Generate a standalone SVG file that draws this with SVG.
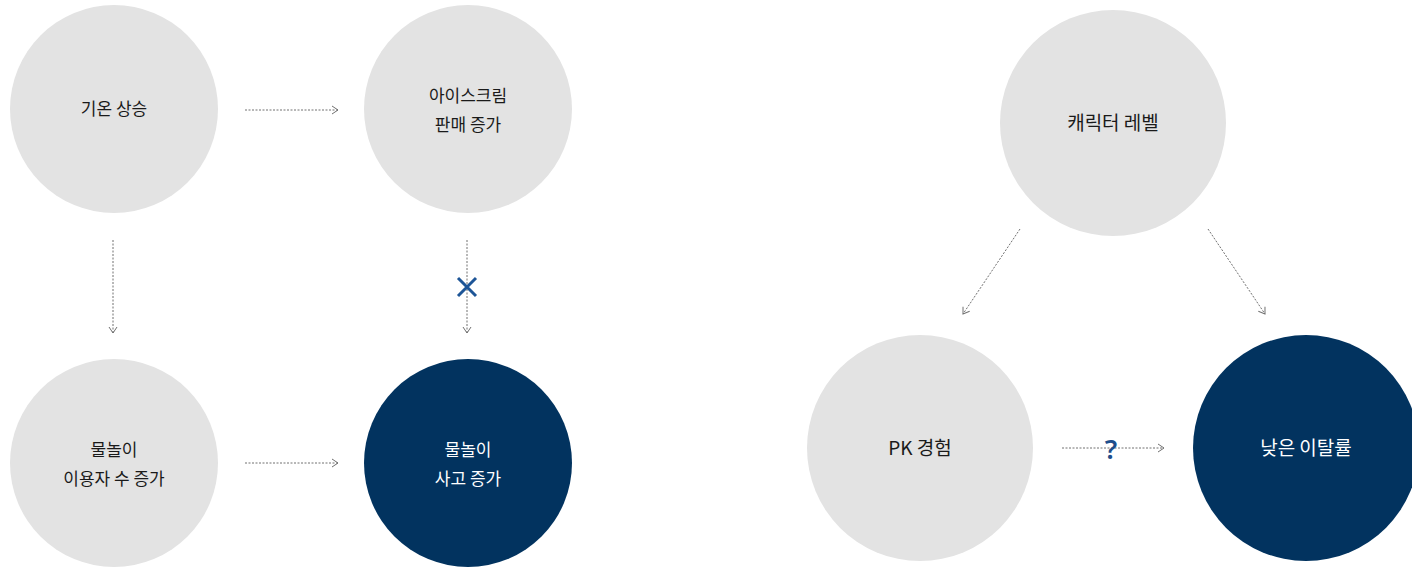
<svg xmlns="http://www.w3.org/2000/svg" width="1412" height="568" viewBox="0 0 1412 568">
<style>
.g{fill:#e3e3e3}
.n{fill:#02335f}
.t{font-family:"Noto Sans CJK KR","Noto Sans",sans-serif;font-size:17px;text-anchor:middle;fill:#1a1a1a}
.tr{font-size:19px}
.w{fill:#fff}
.c{fill:none;stroke:#707070;stroke-width:1;stroke-dasharray:2 1.5;marker-end:url(#ah)}
</style>
<defs>
<marker id="ah" viewBox="0 0 10 10" refX="9" refY="5" markerWidth="10" markerHeight="10" markerUnits="userSpaceOnUse" orient="auto">
<path d="M3,1 L9,5 L3,9" fill="none" stroke="#707070" stroke-width="1"/>
</marker>
</defs>
<rect width="1412" height="568" fill="#fff"/>
<g id="connectors">
<line class="c" x1="245" y1="110" x2="338" y2="110"/>
<line class="c" x1="245" y1="463" x2="338" y2="463"/>
<line class="c" x1="113" y1="240" x2="113" y2="333"/>
<line class="c" x1="467" y1="240" x2="467" y2="333"/>
<line class="c" x1="1020" y1="229" x2="963" y2="314"/>
<line class="c" x1="1208" y1="229" x2="1265" y2="314"/>
<line class="c" x1="1062" y1="448" x2="1164" y2="448"/>
<path d="M458,278 L476,296 M476,278 L458,296" stroke="#1d5597" stroke-width="3" fill="none"/>
<text x="1111" y="459" font-family="Noto Sans, sans-serif" font-size="27" font-weight="600" fill="#1d4e8c" text-anchor="middle">?</text>
</g>
<g id="n1"><circle class="g" cx="114" cy="109" r="104"/><text class="t" x="114" y="115">기온 상승</text></g>
<g id="n2"><circle class="g" cx="468" cy="109" r="104"/><text class="t" x="468" y="102">아이스크림</text><text class="t" x="468" y="131">판매 증가</text></g>
<g id="n3"><circle class="g" cx="114" cy="463" r="104"/><text class="t" x="114" y="456">물놀이</text><text class="t" x="114" y="485">이용자 수 증가</text></g>
<g id="n4"><circle class="n" cx="468" cy="463" r="104"/><text class="t w" x="468" y="456">물놀이</text><text class="t w" x="468" y="485">사고 증가</text></g>
<g id="n5"><circle class="g" cx="1113" cy="123" r="113"/><text class="t tr" x="1113" y="130">캐릭터 레벨</text></g>
<g id="n6"><circle class="g" cx="920" cy="448" r="113"/><text class="t tr" x="920" y="455">PK 경험</text></g>
<g id="n7"><circle class="n" cx="1306" cy="448" r="113"/><text class="t tr w" x="1306" y="455">낮은 이탈률</text></g>
</svg>
